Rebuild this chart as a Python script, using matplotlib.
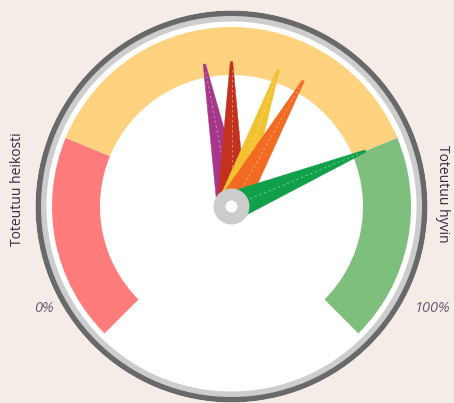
import numpy as np
import matplotlib
matplotlib.use("Agg")
import matplotlib.pyplot as plt
from matplotlib.patches import Polygon

# Gauge scale
scale_min, scale_max = 0, 100
start_deg, end_deg = -135, 135

# Plot bands
band_from = [0, 25, 75]
band_to = [25, 75, 100]
band_colors = ['#FF7C7C', '#FFD27F', '#7EBF7E']

# Dial values (one needle per series)
dial_values = [46, 50, 57, 61, 75]
dial_colors = ['#A7378B', '#C3311F', '#F2C230', '#F36B22', '#10A04A']

scale_labels = ['0%', '100%']
side_labels = ['Toteutuu heikosti', 'Toteutuu hyvin']

W, H = 454, 403
cx, cy, R = 231.5, 206.5, 196.0
bg = '#F5ECE7'

fig = plt.figure(figsize=(W / 100, H / 100), dpi=100, facecolor=bg)
ax = fig.add_axes([(cx - R) / W, (H - cy - R) / H, 2 * R / W, 2 * R / H],
                  projection='polar')
ax.set_theta_zero_location('N')
ax.set_theta_direction(-1)
ax.set_ylim(0, R)
ax.set_axis_off()
ax.patch.set_visible(False)


def val2theta(v):
    frac = (v - scale_min) / (scale_max - scale_min)
    return np.deg2rad(start_deg + frac * (end_deg - start_deg))


full = 2 * np.pi
# Pane background with its rims
ax.bar(0, R, width=full, bottom=0, color='#696969', linewidth=0, zorder=1)
ax.bar(0, R - 5.5, width=full, bottom=0, color='#CDCDCD', linewidth=0, zorder=1)
ax.bar(0, R - 11, width=full, bottom=0, color='white', linewidth=0, zorder=1)

# Coloured bands
band_inner, band_outer = 131.5, 179.5
for f, t, c in zip(band_from, band_to, band_colors):
    t0, t1 = val2theta(f), val2theta(t)
    ax.bar((t0 + t1) / 2, band_outer - band_inner, width=t1 - t0,
           bottom=band_inner, color=c, linewidth=0, zorder=2)

# Needles: tapered spikes from the pivot
needle_len, base_half, top_half = 145, 14.5, 1.2
for i, (v, c) in enumerate(zip(dial_values, dial_colors)):
    th = val2theta(v)
    dt = top_half / needle_len
    pts = [(th - np.pi / 2, base_half), (th - dt, needle_len),
           (th + dt, needle_len), (th + np.pi / 2, base_half)]
    ax.add_patch(Polygon(pts, closed=True, facecolor=c, edgecolor=c,
                         linewidth=0.3, zorder=3 + i * 0.1))
    ax.plot([th, th], [20, needle_len - 8], color='white', alpha=0.45,
            linewidth=0.6, linestyle=(0, (3, 3)), zorder=3 + i * 0.1 + 0.05)

# Pivot
ax.bar(0, 18, width=full, bottom=0, color='#CCCCCC', linewidth=0, zorder=5)
ax.bar(0, 6, width=full, bottom=0, color='white', linewidth=0, zorder=6)


def px(x, y):
    return x / W, 1 - y / H


fig.text(*px(17.5, 189), side_labels[0], rotation=90, ha='center', va='center',
         fontsize=10, family='Open Sans', color='#2E2E40')
fig.text(*px(442.5, 194), side_labels[1], rotation=-90, ha='center', va='center',
         fontsize=10, family='Open Sans', color='#2E2E40')
fig.text(*px(44, 309), scale_labels[0], ha='center', va='center',
         fontsize=10.5, family='Open Sans', style='italic', color='#606070')
fig.text(*px(433, 309), scale_labels[1], ha='center', va='center',
         fontsize=10.5, family='Open Sans', style='italic', color='#606070')

fig.savefig('out.png', dpi=100, facecolor=bg)
